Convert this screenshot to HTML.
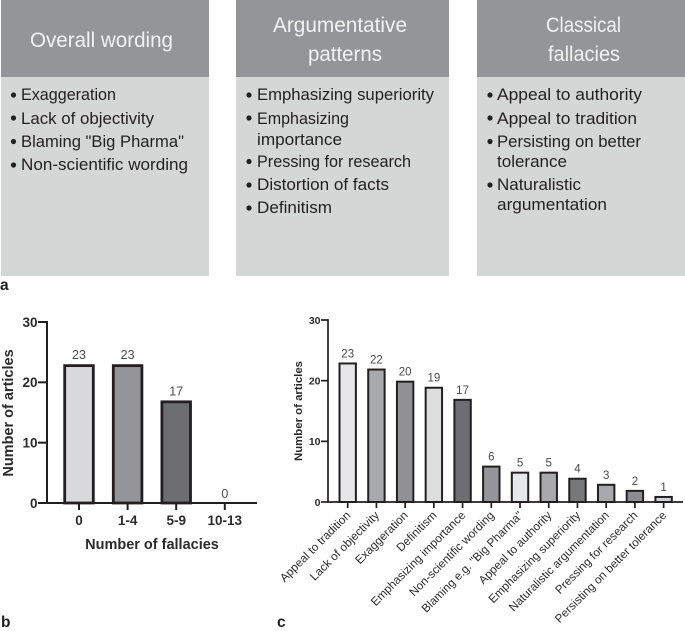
<!DOCTYPE html>
<html lang="en">
<head>
<meta charset="utf-8">
<title>Fallacies in articles</title>
<style>
html,body{margin:0;padding:0;background:#fff;}
svg{display:block;font-family:"Liberation Sans",sans-serif;}
.hd{fill:#f1f2f2;font-size:21px;}
.it{fill:#231f20;font-size:16.5px;}
.pl{fill:#231f20;font-size:15.5px;font-weight:bold;}
</style>
</head>
<body>
<svg id="fig" width="685" height="631" viewBox="0 0 685 631" xmlns="http://www.w3.org/2000/svg">
  <g>
    <g>
      <rect x="1" y="77" width="208" height="199" fill="#d5d7d7"/>
      <rect x="1" y="0" width="208" height="77" fill="#939598"/>
      <text class="hd" x="30" y="47" textLength="143" lengthAdjust="spacingAndGlyphs">Overall wording</text>
      <circle cx="13.5" cy="95" r="2.6" fill="#231f20"/>
      <text class="it" x="21" y="100" textLength="95" lengthAdjust="spacingAndGlyphs">Exaggeration</text>
      <circle cx="13.5" cy="118" r="2.6" fill="#231f20"/>
      <text class="it" x="21" y="124" textLength="133" lengthAdjust="spacingAndGlyphs">Lack of objectivity</text>
      <circle cx="13.5" cy="141.500" r="2.6" fill="#231f20"/>
      <text class="it" x="21" y="147" textLength="163" lengthAdjust="spacingAndGlyphs">Blaming "Big Pharma"</text>
      <circle cx="13.5" cy="165" r="2.6" fill="#231f20"/>
      <text class="it" x="21" y="170" textLength="167" lengthAdjust="spacingAndGlyphs">Non-scientific wording</text>
    </g>
    <g>
      <rect x="236" y="77" width="213" height="199" fill="#d5d7d7"/>
      <rect x="236" y="0" width="213" height="77" fill="#939598"/>
      <text class="hd" x="273" y="32" textLength="134" lengthAdjust="spacingAndGlyphs">Argumentative</text>
      <text class="hd" x="308" y="61" textLength="74" lengthAdjust="spacingAndGlyphs">patterns</text>
      <circle cx="249" cy="95" r="2.6" fill="#231f20"/>
      <text class="it" x="257" y="100" textLength="177" lengthAdjust="spacingAndGlyphs">Emphasizing superiority</text>
      <circle cx="249" cy="118" r="2.6" fill="#231f20"/>
      <text class="it" x="257" y="124" textLength="92" lengthAdjust="spacingAndGlyphs">Emphasizing</text>
      <text class="it" x="257" y="145" textLength="85" lengthAdjust="spacingAndGlyphs">importance</text>
      <circle cx="249" cy="161.500" r="2.6" fill="#231f20"/>
      <text class="it" x="257" y="167" textLength="154" lengthAdjust="spacingAndGlyphs">Pressing for research</text>
      <circle cx="249" cy="185" r="2.6" fill="#231f20"/>
      <text class="it" x="257" y="190" textLength="132" lengthAdjust="spacingAndGlyphs">Distortion of facts</text>
      <circle cx="249" cy="208" r="2.6" fill="#231f20"/>
      <text class="it" x="257" y="213" textLength="75" lengthAdjust="spacingAndGlyphs">Definitism</text>
    </g>
    <g>
      <rect x="477" y="77" width="208" height="199" fill="#d5d7d7"/>
      <rect x="477" y="0" width="208" height="77" fill="#939598"/>
      <text class="hd" x="546" y="32" textLength="75" lengthAdjust="spacingAndGlyphs">Classical</text>
      <text class="hd" x="548" y="61" textLength="72" lengthAdjust="spacingAndGlyphs">fallacies</text>
      <circle cx="490" cy="95" r="2.6" fill="#231f20"/>
      <text class="it" x="497" y="100" textLength="145" lengthAdjust="spacingAndGlyphs">Appeal to authority</text>
      <circle cx="490" cy="118" r="2.6" fill="#231f20"/>
      <text class="it" x="497" y="124" textLength="140" lengthAdjust="spacingAndGlyphs">Appeal to tradition</text>
      <circle cx="490" cy="141.500" r="2.6" fill="#231f20"/>
      <text class="it" x="497" y="147" textLength="144" lengthAdjust="spacingAndGlyphs">Persisting on better</text>
      <text class="it" x="497" y="167" textLength="70" lengthAdjust="spacingAndGlyphs">tolerance</text>
      <circle cx="490" cy="185" r="2.6" fill="#231f20"/>
      <text class="it" x="497" y="190" textLength="84" lengthAdjust="spacingAndGlyphs">Naturalistic</text>
      <text class="it" x="497" y="210" textLength="110" lengthAdjust="spacingAndGlyphs">argumentation</text>
    </g>
    <text class="pl" x="0" y="290">a</text>
  </g>
  <text class="pl" x="1" y="627">b</text>
  <text class="pl" x="277" y="627">c</text>
  <g id="chart-b"></g>
  <g id="chart-c"></g>
</svg>
<script>
var yTickValues = [0, 10, 20, 30];

var bCategories = ['0', '1-4', '5-9', '10-13'];
var bValues = [23, 23, 17, 0];
var bFills = ['#d9dadb', '#939598', '#6d6e70', '#bbbbbb'];

var cCategories = ['Appeal to tradition', 'Lack of objectivity', 'Exaggeration', 'Definitism', 'Emphasizing importance', 'Non-scientific wording', 'Blaming e.g. "Big Pharma"', 'Appeal to authority', 'Emphasizing superiority', 'Naturalistic argumentation', 'Pressing for research', 'Persisting on better tolerance'];
var cValues = [23, 22, 20, 19, 17, 6, 5, 5, 4, 3, 2, 1];
var cFills = ['#e6e7e8', '#a7a9ac', '#8f9194', '#dcddde', '#6d6e71', '#939598', '#e6e7e8', '#a7a9ac', '#77787b', '#a7a9ac', '#8a8c8f', '#d1d3d4'];

var NS = 'http://www.w3.org/2000/svg';

function make(parent, tag, attrs, text) {
  var el = document.createElementNS(NS, tag);
  for (var k in attrs) el.setAttribute(k, attrs[k]);
  if (text !== undefined) el.textContent = text;
  parent.appendChild(el);
  return el;
}

function drawChart(root, o) {
  function y(v) { return o.y0 + (o.y30 - o.y0) * v / 30; }
  function x(i) { return o.x0 + o.step * i; }

  o.values.forEach(function (v, i) {
    if (v > 0) {
      var top = y(v) + o.barStroke / 2;
      var bar = make(root, 'rect', {
        x: x(i) - o.barW / 2, y: top, width: o.barW, height: y(0) - top,
        fill: o.fills[i], stroke: '#231f20', 'stroke-width': o.barStroke
      });
      
      
    }
    var val = make(root, 'text', {
      x: x(i), y: y(v) - o.valGap, 'text-anchor': 'middle',
      'font-size': o.valSize, fill: '#4a4a4c'
    }, String(v));
    
    

    var tick = make(root, 'line', {
      x1: x(i), x2: x(i), y1: y(0), y2: y(0) + o.tickLen,
      stroke: '#231f20', 'stroke-width': o.axisW
    });
    
    

    var lab;
    if (o.rotated) {
      var lx = x(i) + 3.5, ly = y(0) + 14;
      lab = make(root, 'text', {
        x: lx, y: ly, 'text-anchor': 'end', 'font-size': o.xSize, fill: '#2b2b2b',
        transform: 'rotate(-45 ' + lx + ' ' + ly + ')'
      }, o.categories[i]);
    } else {
      lab = make(root, 'text', {
        x: x(i), y: y(0) + 22, 'text-anchor': 'middle', 'font-size': o.xSize,
        'font-weight': 'bold', fill: '#2b2b2b'
      }, o.categories[i]);
    }
    
    
  });

  var xAxis = make(root, 'line', {
    x1: o.axisX - o.axisW / 2, x2: o.axisEnd, y1: y(0), y2: y(0),
    stroke: '#231f20', 'stroke-width': o.axisW
  });
  
  

  var yAxis = make(root, 'line', {
    x1: o.axisX, x2: o.axisX, y1: y(30) - o.axisW / 2, y2: y(0),
    stroke: '#231f20', 'stroke-width': o.axisW
  });
  
  

  yTickValues.forEach(function (v) {
    var t = make(root, 'line', {
      x1: o.axisX - o.yTickLen, x2: o.axisX, y1: y(v), y2: y(v),
      stroke: '#231f20', 'stroke-width': o.axisW
    });
    
    
    var l = make(root, 'text', {
      x: o.axisX - o.yTickLen - 0.5, y: y(v) + o.ySize * 0.36, 'text-anchor': 'end',
      'font-size': o.ySize, 'font-weight': 'bold', fill: '#2b2b2b'
    }, String(v));
    
    
  });

  var yt = make(root, 'text', {
    x: o.yTitleX, y: o.yTitleY, 'text-anchor': 'middle', 'font-size': o.yTitleSize,
    'font-weight': 'bold', fill: '#2b2b2b',
    transform: 'rotate(-90 ' + o.yTitleX + ' ' + o.yTitleY + ')'
  }, 'Number of articles');
  
  

  if (o.xTitle) {
    var xt = make(root, 'text', {
      x: o.xTitleX, y: o.xTitleY, 'text-anchor': 'middle', 'font-size': o.xTitleSize,
      'font-weight': 'bold', fill: '#2b2b2b'
    }, o.xTitle);
    
    
  }
}

drawChart(document.getElementById('chart-b'), {
  categories: bCategories, values: bValues, fills: bFills,
  x0: 79, step: 48.6, barW: 28.6, barStroke: 2.8,
  y0: 503, y30: 322, axisX: 47, axisEnd: 257, axisW: 2, tickLen: 7, yTickLen: 9,
  valGap: 5, valSize: 12.5, xSize: 13.5, ySize: 13.5,
  yTitleX: 13, yTitleY: 413, yTitleSize: 14.5,
  xTitle: 'Number of fallacies', xTitleX: 152, xTitleY: 549, xTitleSize: 14.5
});

drawChart(document.getElementById('chart-c'), {
  categories: cCategories, values: cValues, fills: cFills, rotated: true,
  x0: 347.700, step: 28.72, barW: 16.4, barStroke: 2,
  y0: 502, y30: 320, axisX: 328, axisEnd: 683, axisW: 1.7, tickLen: 6, yTickLen: 7,
  valGap: 5, valSize: 11.5, xSize: 11.7, ySize: 10.5,
  yTitleX: 302, yTitleY: 411, yTitleSize: 11.4
});
</script>
</body>
</html>
